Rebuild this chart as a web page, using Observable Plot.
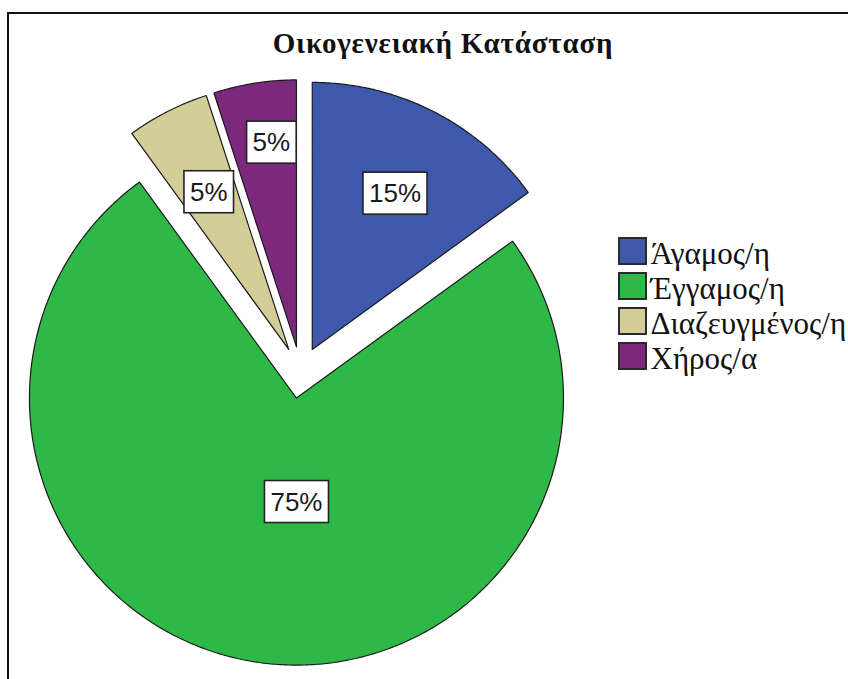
<!DOCTYPE html>
<html><head><meta charset="utf-8">
<script src="https://cdn.jsdelivr.net/npm/d3@7"></script>
<script src="https://cdn.jsdelivr.net/npm/@observablehq/plot@0.6"></script>
<style>
html,body{margin:0;padding:0;background:#fff;}
#wrap{position:relative;width:848px;height:679px;overflow:hidden;background:#fff;}
#frame{position:absolute;left:7px;top:12px;width:900px;height:800px;border-left:2px solid #111;border-top:2px solid #111;}
#chart{position:absolute;left:0;top:0;}
#title{position:absolute;left:0;width:886px;top:27px;line-height:29px;text-align:center;font:bold 29px "Liberation Serif";letter-spacing:0.8px;color:#111;}
#legend{position:absolute;left:612px;top:230px;}
</style></head><body>
<div id="wrap"><div id="frame"></div><div id="chart"></div><div id="title"></div><div id="legend"></div></div>
<script>
const title = "Οικογενειακή Κατάσταση";
const categories = ["Άγαμος/η", "Έγγαμος/η", "Διαζευγμένος/η", "Χήρος/α"];
const percents = [15, 75, 5, 5];
const colors = ["#3E58AC", "#2EB848", "#D3CE97", "#7C287D"];
// layout only: label placement per slice (fraction of radius, angular shift in degrees)
const labelRadius = [0.66, 0.39, 0.66, 0.77];
const labelTurn = [1, -9, 0, 2];
const explode = 0.097;

document.getElementById("title").textContent = title;

const arcs = d3.pie().sort(null).value(d => d)(percents);
const rows = [];
const labels = [];
arcs.forEach((p, i) => {
  const cat = categories[i];
  const mid = (p.startAngle + p.endAngle) / 2;
  const cx = explode * Math.sin(mid), cy = explode * Math.cos(mid);
  rows.push({cat, x: cx, y: cy});
  const n = Math.max(4, Math.ceil((p.endAngle - p.startAngle) / (Math.PI / 360)));
  for (let k = 0; k <= n; k++) {
    const a = p.startAngle + (p.endAngle - p.startAngle) * k / n;
    rows.push({cat, x: cx + Math.sin(a), y: cy + Math.cos(a)});
  }
  rows.push({cat, x: cx, y: cy});
  const la = mid + labelTurn[i] * Math.PI / 180;
  labels.push({x: cx + labelRadius[i] * Math.sin(la), y: cy + labelRadius[i] * Math.cos(la), text: percents[i] + "%"});
});

const chart = Plot.plot({
  width: 848, height: 679,
  marginLeft: 33, marginRight: 281, marginTop: 105, marginBottom: 40,
  x: {domain: [-1, 1], axis: null},
  y: {domain: [-1, 1], axis: null},
  color: {domain: categories, range: colors},
  style: {background: "transparent", overflow: "visible"},
  marks: [
    Plot.line(rows, {x: "x", y: "y", z: "cat", fill: "cat", stroke: "#1a1a1a", strokeWidth: 1.2, strokeLinejoin: "miter"}),
    Plot.text(labels, {x: "x", y: "y", text: "text", fontSize: 26, fontFamily: "Liberation Sans", fill: "#1a1a1a"})
  ]
});
document.getElementById("chart").appendChild(chart);

// white boxes behind the percentage labels
const tg = chart.querySelector('g[aria-label="text"]');
if (tg) {
  const ns = "http://www.w3.org/2000/svg";
  const boxes = document.createElementNS(ns, "g");
  const gtf = tg.getAttribute("transform");
  if (gtf) boxes.setAttribute("transform", gtf);
  tg.querySelectorAll("text").forEach(t => {
    const b = t.getBBox();
    const r = document.createElementNS(ns, "rect");
    const tf = t.getAttribute("transform");
    if (tf) r.setAttribute("transform", tf);
    r.setAttribute("x", b.x - 6);
    r.setAttribute("y", b.y - 6);
    r.setAttribute("width", b.width + 12);
    r.setAttribute("height", b.height + 12);
    r.setAttribute("fill", "#fff");
    r.setAttribute("stroke", "#222");
    r.setAttribute("stroke-width", "1.6");
    boxes.appendChild(r);
  });
  tg.parentNode.insertBefore(boxes, tg);
}

const legend = Plot.plot({
  width: 236, height: 150,
  marginTop: 6, marginLeft: 6, marginRight: 236 - 6 - 29, marginBottom: 8,
  x: {type: "band", domain: ["s"], padding: 0, axis: null},
  y: {type: "band", domain: categories, range: [6, 142], paddingInner: 0.187, paddingOuter: 0, axis: null},
  color: {domain: categories, range: colors},
  style: {background: "transparent", overflow: "visible"},
  marks: [
    Plot.cell(categories, {x: () => "s", y: d => d, fill: d => d, stroke: "#2a2a2a", strokeWidth: 2, inset: 1}),
    Plot.text(categories, {x: () => "s", y: d => d, text: d => d, textAnchor: "start", dx: 17.5, dy: 3, fontSize: 31, fontFamily: "Liberation Serif", fill: "#111"})
  ]
});
document.getElementById("legend").appendChild(legend);
</script>
</body></html>
